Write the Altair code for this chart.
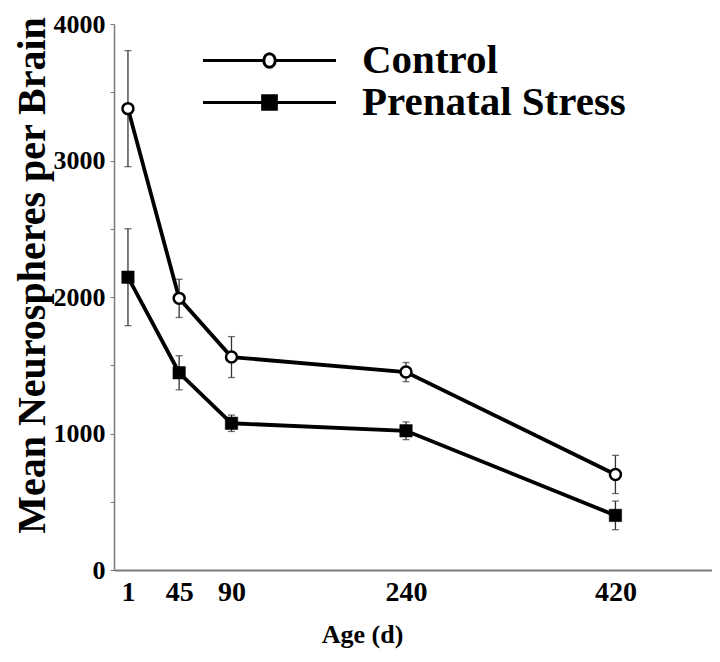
import altair as alt
import pandas as pd

ages = [1, 45, 90, 240, 420]
groups = ["Control", "Prenatal Stress"]
control_mean = [3380, 1990, 1560, 1450, 700]
control_err = [425, 140, 150, 70, 140]
stress_mean = [2145, 1445, 1075, 1020, 400]
stress_err = [355, 125, 60, 65, 105]
x_ticks = [1, 45, 90, 240, 420]
y_ticks = [0, 500, 1000, 1500, 2000, 2500, 3000, 3500, 4000]

rows = []
for g, means, errs in [(groups[0], control_mean, control_err), (groups[1], stress_mean, stress_err)]:
    for a, m, e in zip(ages, means, errs):
        rows.append({"age": a, "group": g, "mean": m, "lo": m - e, "hi": m + e})
df = pd.DataFrame(rows)

FONT = "Liberation Serif"

xs = alt.Scale(domain=[-11, 503], nice=False, zero=False)
ys = alt.Scale(domain=[0, 4000], nice=False)

x_enc = alt.X(
    "age:Q", scale=xs,
    axis=alt.Axis(
        values=x_ticks, title="Age (d)", ticks=False, grid=False,
        domainColor="#7a7a7a", domainWidth=2,
        labelFont=FONT, labelFontSize=28, labelFontWeight="bold", labelColor="black",
        labelPadding=8, labelFlush=False,
        titleFont=FONT, titleFontSize=26, titleFontWeight="bold", titleColor="black",
        titleX=248, titleY=72, titleAlign="center", titleBaseline="alphabetic",
    ),
)
y_enc = alt.Y(
    "mean:Q", scale=ys,
    axis=alt.Axis(
        values=y_ticks, title="Mean Neurospheres per Brain", grid=False,
        labelExpr="datum.value % 1000 == 0 ? datum.label : ''",
        format="d",
        domainColor="#7a7a7a", domainWidth=1.5, tickColor="#7a7a7a", tickSize=4, tickWidth=1,
        labelFont=FONT, labelFontSize=26, labelFontWeight="bold", labelColor="black",
        labelPadding=5,
        titleFont=FONT, titleFontSize=40, titleFontWeight="bold", titleColor="black",
        titleAngle=-90, titleX=-82, titleY=251, titleAlign="center", titleBaseline="middle",
    ),
)

base = alt.Chart(df)

err = base.mark_rule(color="#333333", strokeWidth=1.3).encode(
    x="age:Q", y=alt.Y("lo:Q", scale=ys), y2="hi:Q"
)
caps = base.transform_fold(["lo", "hi"], as_=["end", "val"]).mark_tick(
    orient="horizontal", size=7, thickness=1.3, color="#333333"
).encode(x="age:Q", y=alt.Y("val:Q", scale=ys))

lines = base.mark_line(color="black", strokeWidth=3.8).encode(
    x=x_enc, y=y_enc, detail="group:N"
)

ctrl_pts = base.transform_filter(alt.datum.group == groups[0]).mark_point(
    shape="circle", filled=True, fill="white", stroke="black", strokeWidth=2.5, size=120, opacity=1
).encode(x="age:Q", y="mean:Q")

stress_pts = base.transform_filter(alt.datum.group == groups[1]).mark_point(
    shape="square", filled=True, fill="black", stroke="black", strokeWidth=0.5, size=155, opacity=1
).encode(x="age:Q", y="mean:Q")

path_ctrl = "M-3.5,0H-0.3M0.3,0H3.5M0.3,0A0.3,0.36,0,1,1,-0.3,0A0.3,0.36,0,1,1,0.3,0Z"
path_stress = "M-3.5,0H3.5M-0.36,-0.36H0.36V0.36H-0.36Z"

leg = dict(
    title=None, orient="none", legendX=135, legendY=16, padding=0, offset=0,
    symbolSize=1444, symbolStrokeWidth=3, symbolOpacity=1,
    labelFont=FONT, labelFontSize=41, labelFontWeight="bold", labelColor="black",
    labelOffset=72, rowPadding=0, labelLimit=400,
)
legend_layer = base.mark_point(
    filled=True, strokeWidth=3, size=1444, opacity=0
).encode(
    x="age:Q", y="mean:Q",
    shape=alt.Shape("group:N", scale=alt.Scale(domain=groups, range=[path_ctrl, path_stress]),
                    legend=alt.Legend(**leg)),
    fill=alt.Fill("group:N", scale=alt.Scale(domain=groups, range=["white", "black"]),
                  legend=alt.Legend(**leg)),
    stroke=alt.Stroke("group:N", scale=alt.Scale(domain=groups, range=["black", "black"]),
                      legend=alt.Legend(**leg)),
)

chart = alt.layer(lines, err, caps, ctrl_pts, stress_pts, legend_layer).properties(
    width=598, height=546,
    autosize=alt.AutoSizeParams(type="none"),
    padding={"left": 106, "top": 16, "right": 0, "bottom": 84},
    background="white",
).configure_view(stroke=None)

chart.save("out.html", embed_options={"renderer": "svg", "actions": False})
